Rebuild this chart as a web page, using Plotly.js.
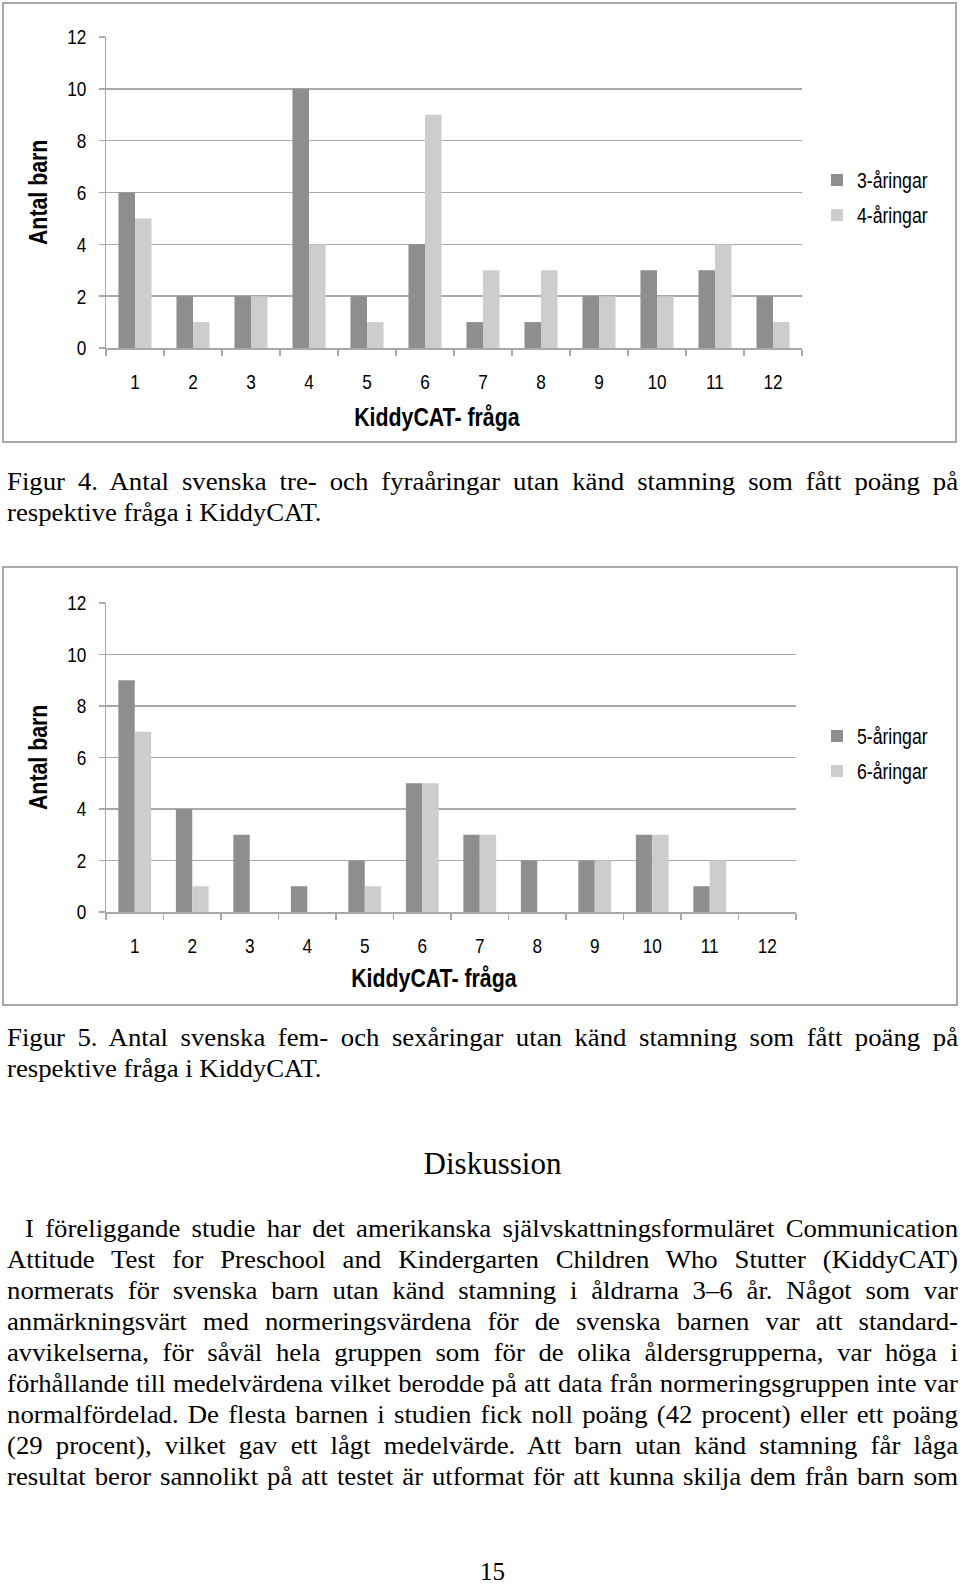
<!DOCTYPE html>
<html>
<head>
<meta charset="utf-8">
<script src="https://cdn.plot.ly/plotly-3.0.1.min.js"></script>
<style>
  html, body { margin:0; padding:0; background:#fff; }
  body { width:960px; height:1584px; position:relative; overflow:hidden; }
  .frame { position:absolute; border:2px solid #a9a9a9; box-sizing:border-box; }
  .plot { position:absolute; left:0; width:960px; height:450px; }
  .line { position:absolute; left:7px; width:888.8px; height:31px; line-height:31px;
          font-family:"Liberation Serif","Times New Roman",serif; font-size:25px; color:#000;
          text-align:justify; text-align-last:justify; white-space:nowrap;
          transform:scaleX(1.07); transform-origin:0 0; }
  .left { text-align:left; text-align-last:left; }
  .plain { position:absolute; left:7px; width:951px; text-align:center; color:#000;
           font-family:"Liberation Serif","Times New Roman",serif; }
</style>
</head>
<body>
<div class="frame" style="left:2px;top:2px;width:955px;height:441px;"></div>
<div class="frame" style="left:2px;top:566px;width:956px;height:440px;"></div>
<div id="chart1" class="plot" style="top:0px;"></div>
<div id="chart2" class="plot" style="top:560px;"></div>

<div class="line" style="top:466px;">Figur 4. Antal svenska tre- och fyraåringar utan känd stamning som fått poäng på</div>
<div class="line left" style="top:497px;">respektive fråga i KiddyCAT.</div>

<div class="line" style="top:1022px;">Figur 5. Antal svenska fem- och sexåringar utan känd stamning som fått poäng på</div>
<div class="line left" style="top:1053px;">respektive fråga i KiddyCAT.</div>

<div class="plain" style="top:1146px;left:17px;height:36px;line-height:36px;font-size:31px;">Diskussion</div>

<div class="line" style="top:1213px;left:25px;width:872px;">I föreliggande studie har det amerikanska självskattningsformuläret Communication</div>
<div class="line" style="top:1244px;">Attitude Test for Preschool and Kindergarten Children Who Stutter (KiddyCAT)</div>
<div class="line" style="top:1275px;">normerats för svenska barn utan känd stamning i åldrarna 3–6 år. Något som var</div>
<div class="line" style="top:1306px;">anmärkningsvärt med normeringsvärdena för de svenska barnen var att standard-</div>
<div class="line" style="top:1337px;">avvikelserna, för såväl hela gruppen som för de olika åldersgrupperna, var höga i</div>
<div class="line" style="top:1368px;">förhållande till medelvärdena vilket berodde på att data från normeringsgruppen inte var</div>
<div class="line" style="top:1399px;">normalfördelad. De flesta barnen i studien fick noll poäng (42 procent) eller ett poäng</div>
<div class="line" style="top:1430px;">(29 procent), vilket gav ett lågt medelvärde. Att barn utan känd stamning får låga</div>
<div class="line" style="top:1461px;">resultat beror sannolikt på att testet är utformat för att kunna skilja dem från barn som</div>

<div class="plain" style="top:1556px;left:17px;height:31px;line-height:31px;font-size:25px;">15</div>

<script>
// ---- data ----
const questions = ['1','2','3','4','5','6','7','8','9','10','11','12'];
const yTickVals = [0, 2, 4, 6, 8, 10, 12];
const names1 = ['3-åringar', '4-åringar'];
const age3 = [6, 2, 2, 10, 2, 4, 1, 1, 2, 3, 3, 2];
const age4 = [5, 1, 2, 4, 1, 9, 3, 3, 2, 2, 4, 1];
const names2 = ['5-åringar', '6-åringar'];
const age5 = [9, 4, 3, 1, 2, 5, 3, 2, 2, 3, 1, 0];
const age6 = [7, 1, 0, 0, 1, 5, 3, 0, 2, 3, 2, 0];
const xTitle = 'KiddyCAT- fråga';
const yTitle = 'Antal barn';

const SANS = '"Liberation Sans", Arial, sans-serif';
const DARK = '#8e8e8e', LIGHT = '#cdcdcd', GRID = '#a9a9a9';
const NARROW_RATIO = 0.82;  // mimic Arial Narrow

function narrowText(gd) {
  gd.querySelectorAll('svg text').forEach(function (t) {
    if (!t.textContent) return;
    const len = t.getComputedTextLength();
    if (len > 0) {
      t.setAttribute('textLength', (len * NARROW_RATIO).toFixed(2));
      t.setAttribute('lengthAdjust', 'spacingAndGlyphs');
    }
  });
}

function makeChart(id, names, s1, s2, m, legendX, legendY, titleX, titleY, yTitleX) {
  const traces = [
    {type:'bar', x:questions, y:s1, name:names[0], marker:{color:DARK}, legendgroup:'a'},
    {type:'bar', x:questions, y:s2, name:names[1], marker:{color:LIGHT}, legendgroup:'b'}
  ];
  const layout = {
    width:960, height:450,
    margin:{l:m.l, r:m.r, t:m.t, b:m.b},
    paper_bgcolor:'rgba(0,0,0,0)', plot_bgcolor:'rgba(0,0,0,0)',
    barmode:'group', bargap:0.43, bargroupgap:0,
    font:{family:SANS, color:'#000', size:21},
    showlegend:true,
    legend:{x:legendX, y:legendY, xanchor:'left', yanchor:'middle',
            font:{family:SANS, size:21.5, color:'#000'}, tracegroupgap:4,
            itemwidth:30, bgcolor:'rgba(0,0,0,0)'},
    xaxis:{type:'category', showline:true, linecolor:GRID, linewidth:1.5,
           ticks:'outside', tickson:'boundaries', ticklen:6, tickcolor:GRID, tickwidth:1.5,
           showgrid:false, zeroline:false, tickfont:{size:21, family:SANS},
           ticklabelstandoff:14, fixedrange:true},
    yaxis:{range:[0,12], tickvals:yTickVals, showline:true, linecolor:GRID, linewidth:1.5,
           ticks:'outside', ticklen:6, tickcolor:GRID, tickwidth:1.5,
           showgrid:true, gridcolor:GRID, gridwidth:1.5, zeroline:false,
           tickfont:{size:21, family:SANS}, ticklabelstandoff:8, fixedrange:true},
    annotations:[
      {text:'<b>'+xTitle+'</b>', xref:'paper', yref:'paper', x:titleX, y:titleY,
       xanchor:'center', yanchor:'middle', showarrow:false, font:{size:26, family:SANS}},
      {text:'<b>'+yTitle+'</b>', xref:'paper', yref:'paper', x:yTitleX, y:0.5, textangle:-90,
       xanchor:'center', yanchor:'middle', showarrow:false, font:{size:26, family:SANS}}
    ]
  };
  return Plotly.newPlot(id, traces, layout, {staticPlot:true, displayModeBar:false})
    .then(function (gd) { narrowText(gd); });
}

// chart 1: plot area x 106..803, y 37..348
makeChart('chart1', names1, age3, age4, {l:106, r:157, t:37, b:102},
          (817-106)/697, (348-197.5)/311, (437-106)/697, -(417-348)/311, (37-106)/697);
// chart 2: plot area x 106..797, y 603..912 (div top at 560)
makeChart('chart2', names2, age5, age6, {l:106, r:163, t:43, b:98},
          (817-106)/691, (912-753.5)/309, (434-106)/691, -(978-912)/309, (37-106)/691);
</script>
</body>
</html>
